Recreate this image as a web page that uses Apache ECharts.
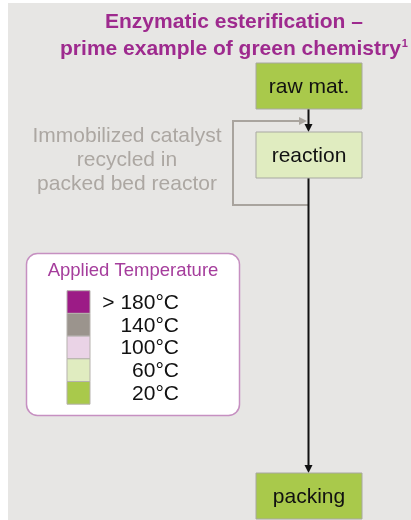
<!DOCTYPE html>
<html>
<head>
<meta charset="utf-8">
<script src="https://cdn.jsdelivr.net/npm/echarts@6/dist/echarts.min.js"></script>
<style>
  html, body { margin: 0; padding: 0; background: #fff; }
  #chart { width: 411px; height: 520px; }
</style>
</head>
<body>
<div id="chart"></div>
<script>
// chart content
const titleLines = ['Enzymatic esterification –', 'prime example of green chemistry'];
const titleNote = '1';
const steps = ['raw mat.', 'reaction', 'packing'];
const stepLevel = [4, 3, 4]; // index into tempLabels
const tempLabels = ['> 180°C', '140°C', '100°C', '60°C', '20°C'];
const tempColors = ['#9c1b86', '#9b948d', '#ead3e6', '#e0ecc0', '#a9c94b'];
const legendTitle = 'Applied Temperature';
const recycleNote = ['Immobilized catalyst', 'recycled in', 'packed bed reactor'];

const chart = echarts.init(document.getElementById('chart'));

const font = 'Liberation Sans, Arial, sans-serif';
const purple = '#9e2a8e';
const grayLine = '#a9a49e';

// step boxes
const boxX = 256, boxW = 106, boxH = 46;
const boxY = [63, 132, 473];
const midX = boxX + boxW / 2 - 0.5;

function arrowHead(tipX, tipY, dir, color) {
  const s = 4, l = 8;
  const pts = dir === 'down'
    ? [[tipX, tipY], [tipX - s, tipY - l], [tipX + s, tipY - l]]
    : [[tipX, tipY], [tipX - l, tipY - s], [tipX - l, tipY + s]];
  return { type: 'polygon', shape: { points: pts }, style: { fill: color }, z: 5 };
}

const g = [];

// background panel
g.push({ type: 'rect', shape: { x: 8, y: 3, width: 411, height: 530 }, style: { fill: '#e7e6e4' }, z: 0 });

// title
g.push({
  type: 'text', x: 234, y: 22,
  style: { text: titleLines[0], font: 'bold 21px ' + font, fill: purple, align: 'center', verticalAlign: 'middle' }
});
g.push({
  type: 'text', x: 234, y: 49,
  style: {
    text: titleLines[1] + '{sup|' + titleNote + '}',
    font: 'bold 21px ' + font, fill: purple, align: 'center', verticalAlign: 'middle',
    rich: { sup: { fontSize: 11, fontWeight: 'bold', fill: purple, fontFamily: font, padding: [0, 0, 10, 1] } }
  }
});

// recycle loop
g.push({
  type: 'polyline',
  shape: { points: [[midX, 205], [233, 205], [233, 121], [300, 121]] },
  style: { stroke: grayLine, lineWidth: 2, fill: null }, z: 3
});
g.push(arrowHead(307, 121, 'right', grayLine));

// main flow
g.push({ type: 'line', shape: { x1: midX, y1: boxY[0] + boxH, x2: midX, y2: boxY[1] - 6 }, style: { stroke: '#111', lineWidth: 2 }, z: 4 });
g.push(arrowHead(midX, boxY[1], 'down', '#111'));
g.push({ type: 'line', shape: { x1: midX, y1: boxY[1] + boxH, x2: midX, y2: boxY[2] - 6 }, style: { stroke: '#111', lineWidth: 2 }, z: 4 });
g.push(arrowHead(midX, boxY[2], 'down', '#111'));

steps.forEach((name, i) => {
  g.push({
    type: 'rect', shape: { x: boxX, y: boxY[i], width: boxW, height: boxH },
    style: { fill: tempColors[stepLevel[i]], stroke: '#a8a8a2', lineWidth: 1 }, z: 6
  });
  g.push({
    type: 'text', x: boxX + boxW / 2, y: boxY[i] + boxH / 2 + 1,
    style: { text: name, font: '21px ' + font, fill: '#111', align: 'center', verticalAlign: 'middle' }, z: 7
  });
});

// recycle note
recycleNote.forEach((t, i) => {
  g.push({
    type: 'text', x: 127, y: 136 + i * 24,
    style: { text: t, font: '21px ' + font, fill: '#aca7a2', align: 'center', verticalAlign: 'middle' }
  });
});

// temperature legend
g.push({
  type: 'rect', shape: { x: 26.5, y: 253.5, width: 213, height: 162, r: 11 },
  style: { fill: '#fff', stroke: '#c690c1', lineWidth: 1.5 }, z: 2
});
g.push({
  type: 'text', x: 133, y: 271,
  style: { text: legendTitle, font: '18.5px ' + font, fill: '#a53d9c', align: 'center', verticalAlign: 'middle' }, z: 3
});
const swH = 22.7;
tempLabels.forEach((lab, i) => {
  const y = 290.7 + i * swH;
  g.push({
    type: 'rect', shape: { x: 67, y: y, width: 23, height: swH },
    style: { fill: tempColors[i], stroke: '#b5b1ad', lineWidth: 1 }, z: 3
  });
  g.push({
    type: 'text', x: 179, y: y + swH / 2 + 1,
    style: { text: lab, font: '21px ' + font, fill: '#111', align: 'right', verticalAlign: 'middle' }, z: 3
  });
});

chart.setOption({
  animation: false,
  graphic: { elements: g }
});
</script>
</body>
</html>
